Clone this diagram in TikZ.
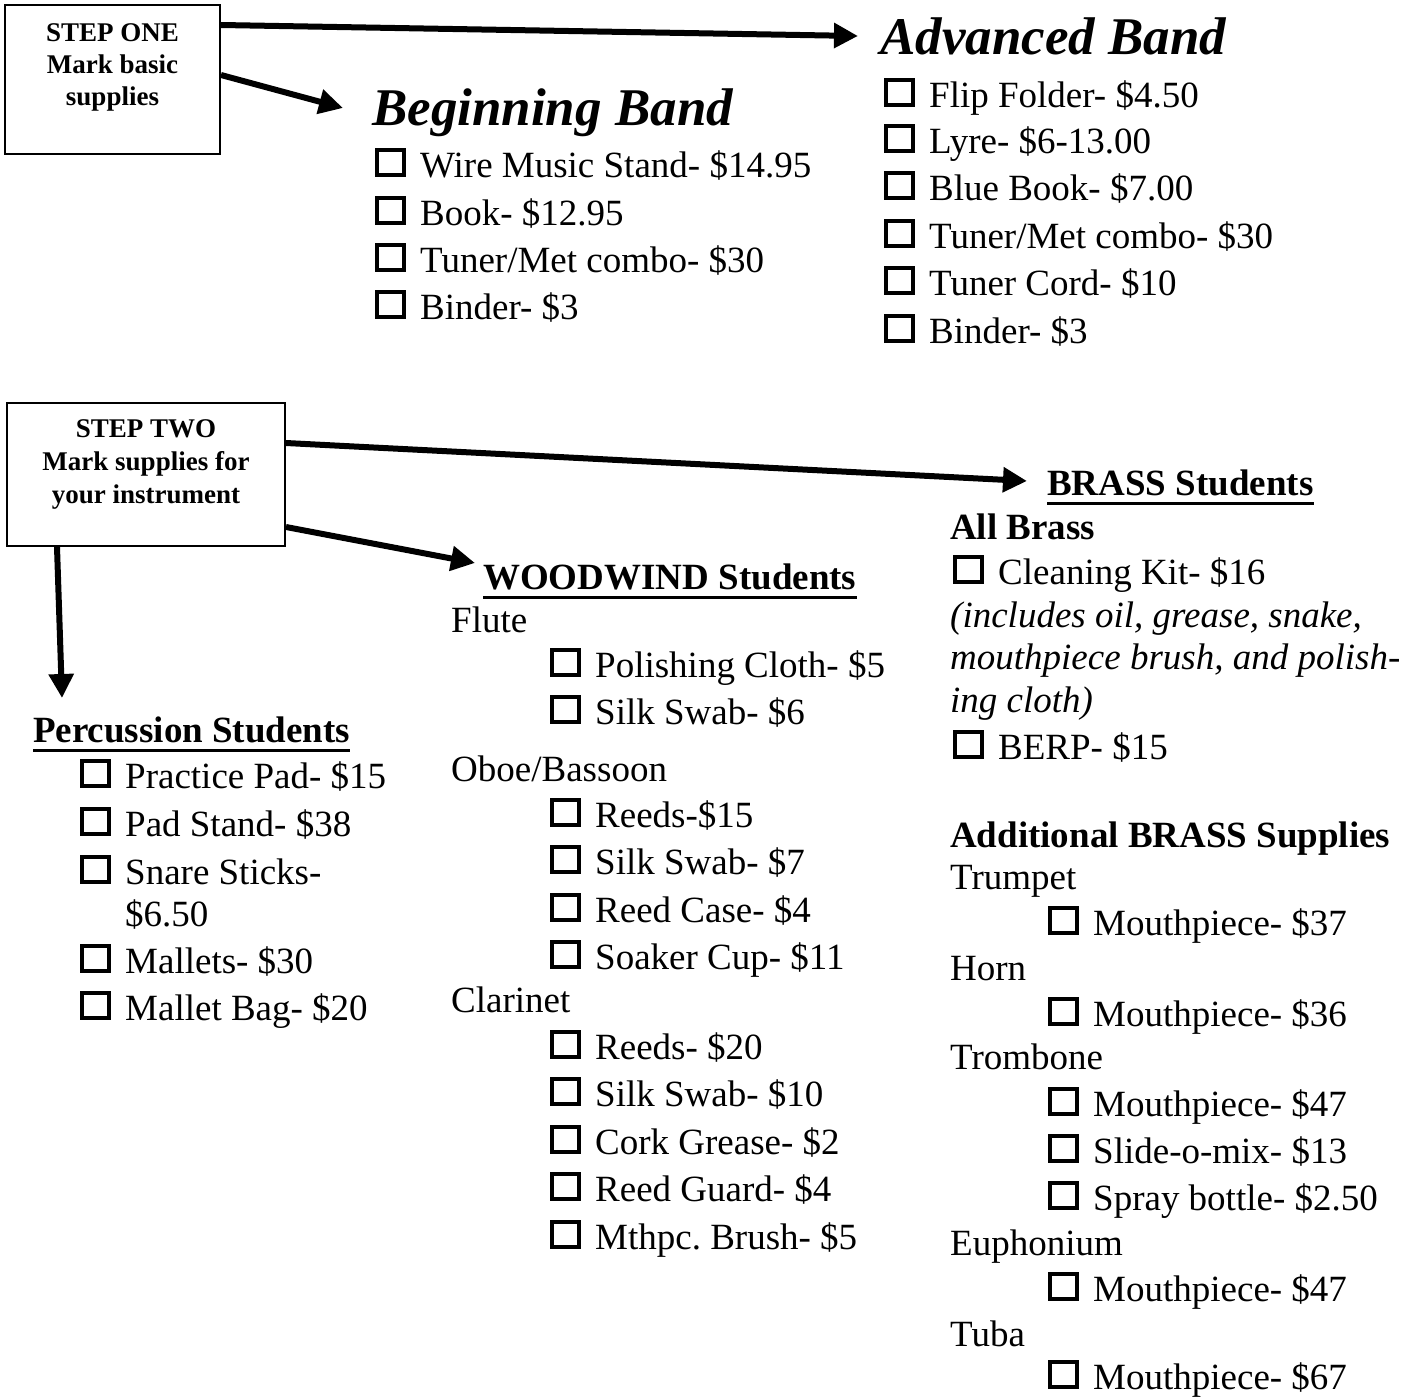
\documentclass[tikz,border=0pt]{standalone}
\usepackage{fontspec}
\setmainfont{Liberation Serif}
\usetikzlibrary{arrows.meta}
\frenchspacing
\newcommand\ckb{\raisebox{4pt}{\setlength{\fboxrule}{4pt}\setlength{\fboxsep}{0pt}\fbox{\rule{0pt}{21pt}\rule{23pt}{0pt}}}\hspace{14pt}}
\tikzset{
  txt/.style={anchor=base west, inner sep=0pt, font=\fontsize{37}{44}\selectfont},
  hd/.style={anchor=base west, inner sep=0pt, font=\fontsize{37}{44}\selectfont\bfseries},
  itl/.style={anchor=base west, inner sep=0pt, font=\fontsize{37}{44}\selectfont\itshape},
  ttl/.style={anchor=base west, inner sep=0pt, font=\fontsize{53}{60}\selectfont\bfseries\itshape},
  stepbox/.style={draw, line width=2pt, inner sep=0pt},
  steptxt/.style={anchor=base, inner sep=0pt, font=\fontsize{27}{32}\selectfont\bfseries},
  arr/.style={line width=6pt, -{Triangle[length=24pt,width=24pt]}},
  uline/.style={line width=3pt}
}
\begin{document}
\begin{tikzpicture}[x=1pt,y=-1pt]
\useasboundingbox (0,0) rectangle (1419,1397);
% STEP ONE
\node[stepbox, minimum width=215pt, minimum height=149pt] (s1) at (112.5,79.5) {};
\node[steptxt] (s1a) at (112.5,42) {STEP ONE};
\node[steptxt] (s1b) at (112.5,74) {Mark basic};
\node[steptxt] (s1c) at (112.5,106) {supplies};
% Beginning Band
\node[ttl] (bb) at (372,125) {Beginning Band};
\node[txt] (bb1) at (375,177) {\ckb Wire Music Stand- \$14.95};
\node[txt] (bb2) at (375,225) {\ckb Book- \$12.95};
\node[txt] (bb3) at (375,272) {\ckb Tuner/Met combo- \$30};
\node[txt] (bb4) at (375,319) {\ckb Binder- \$3};
% Advanced Band
\node[ttl] (ab) at (880,55) {Advanced Band};
\node[txt] (ab1) at (884,107) {\ckb Flip Folder- \$4.50};
\node[txt] (ab2) at (884,153) {\ckb Lyre- \$6-13.00};
\node[txt] (ab3) at (884,200) {\ckb Blue Book- \$7.00};
\node[txt] (ab4) at (884,248) {\ckb Tuner/Met combo- \$30};
\node[txt] (ab5) at (884,295) {\ckb Tuner Cord- \$10};
\node[txt] (ab6) at (884,343) {\ckb Binder- \$3};
\coordinate (abtip) at (858,36);
\coordinate (bbtip) at (343,108);
\draw[arr] (s1.east |- 0,25) -- (abtip);
\draw[arr] (s1.east |- 0,75) -- (bbtip);
% STEP TWO
\node[stepbox, minimum width=278pt, minimum height=143pt] (s2) at (146,474.5) {};
\node[steptxt] (s2a) at (146,437) {STEP TWO};
\node[steptxt] (s2b) at (146,470) {Mark supplies for};
\node[steptxt] (s2c) at (146,503) {your instrument};
\coordinate (brtip) at (1027,481);
\coordinate (wwtip) at (475,563);
\coordinate (pctip) at (62,698);
\draw[arr] (s2.east |- 0,443) -- (brtip);
\draw[arr] (s2.east |- 0,527) -- (wwtip);
\draw[arr] (s2.south -| 57,0) -- (pctip);
% Percussion
\node[hd] (pc) at (33,742) {Percussion Students};
\draw[uline] ([yshift=-8pt]pc.base west) -- ([yshift=-8pt]pc.base east);
\node[txt] (pc1) at (80,788) {\ckb Practice Pad- \$15};
\node[txt] (pc2) at (80,836) {\ckb Pad Stand- \$38};
\node[txt] (pc3) at (80,884) {\ckb Snare Sticks-};
\node[txt] (pc3b) at (125,926) {\$6.50};
\node[txt] (pc4) at (80,973) {\ckb Mallets- \$30};
\node[txt] (pc5) at (80,1020) {\ckb Mallet Bag- \$20};
% Woodwind
\node[hd] (ww) at (483,589) {WOODWIND Students};
\draw[uline] ([yshift=-8pt]ww.base west) -- ([yshift=-8pt]ww.base east);
\node[txt] (fl) at (451,632) {Flute};
\node[txt] (fl1) at (550,677) {\ckb Polishing Cloth- \$5};
\node[txt] (fl2) at (550,724) {\ckb Silk Swab- \$6};
\node[txt] (ob) at (451,781) {Oboe/Bassoon};
\node[txt] (ob1) at (550,827) {\ckb Reeds-\$15};
\node[txt] (ob2) at (550,874) {\ckb Silk Swab- \$7};
\node[txt] (ob3) at (550,922) {\ckb Reed Case- \$4};
\node[txt] (ob4) at (550,969) {\ckb Soaker Cup- \$11};
\node[txt] (cl) at (451,1012) {Clarinet};
\node[txt] (cl1) at (550,1059) {\ckb Reeds- \$20};
\node[txt] (cl2) at (550,1106) {\ckb Silk Swab- \$10};
\node[txt] (cl3) at (550,1154) {\ckb Cork Grease- \$2};
\node[txt] (cl4) at (550,1201) {\ckb Reed Guard- \$4};
\node[txt] (cl5) at (550,1249) {\ckb Mthpc. Brush- \$5};
% Brass
\node[hd] (br) at (1047,495) {BRASS Students};
\draw[uline] ([yshift=-8pt]br.base west) -- ([yshift=-8pt]br.base east);
\node[hd] (ab0) at (950,539) {All Brass};
\node[txt] (br1) at (953,584) {\ckb Cleaning Kit- \$16};
\node[itl] (bri1) at (950,627) {(includes oil, grease, snake,};
\node[itl] (bri2) at (950,669) {mouthpiece brush, and polish-};
\node[itl] (bri3) at (950,712) {ing cloth)};
\node[txt] (br2) at (953,759) {\ckb BERP- \$15};
\node[hd] (ad) at (950,847) {Additional BRASS Supplies};
\node[txt] (tp) at (950,889) {Trumpet};
\node[txt] (tp1) at (1048,935) {\ckb Mouthpiece- \$37};
\node[txt] (hn) at (950,980) {Horn};
\node[txt] (hn1) at (1048,1026) {\ckb Mouthpiece- \$36};
\node[txt] (tb) at (950,1069) {Trombone};
\node[txt] (tb1) at (1048,1116) {\ckb Mouthpiece- \$47};
\node[txt] (tb2) at (1048,1163) {\ckb Slide-o-mix- \$13};
\node[txt] (tb3) at (1048,1210) {\ckb Spray bottle- \$2.50};
\node[txt] (eu) at (950,1255) {Euphonium};
\node[txt] (eu1) at (1048,1301) {\ckb Mouthpiece- \$47};
\node[txt] (tu) at (950,1346) {Tuba};
\node[txt] (tu1) at (1048,1389) {\ckb Mouthpiece- \$67};
\end{tikzpicture}
\end{document}
